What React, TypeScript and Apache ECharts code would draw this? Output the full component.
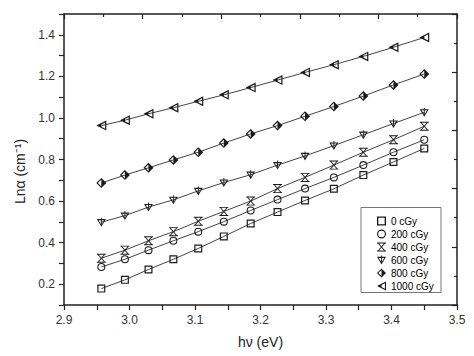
import React, { useEffect, useRef } from "react";
import * as echarts from "echarts";

const hv = [2.957, 2.993, 3.029, 3.067, 3.105, 3.144, 3.185, 3.226, 3.268, 3.312, 3.357, 3.403, 3.45];
const s0 = [0.179, 0.221, 0.271, 0.32, 0.372, 0.43, 0.492, 0.547, 0.603, 0.659, 0.725, 0.788, 0.853];
const s200 = [0.283, 0.32, 0.364, 0.409, 0.453, 0.501, 0.555, 0.607, 0.66, 0.714, 0.773, 0.835, 0.895];
const s400 = [0.325, 0.364, 0.409, 0.453, 0.503, 0.55, 0.6, 0.66, 0.714, 0.773, 0.835, 0.895, 0.96];
const s600 = [0.498, 0.53, 0.571, 0.606, 0.649, 0.689, 0.727, 0.773, 0.817, 0.867, 0.919, 0.973, 1.027];
const s800 = [0.687, 0.725, 0.76, 0.798, 0.835, 0.879, 0.923, 0.963, 1.008, 1.055, 1.105, 1.159, 1.211];
const s1000 = [0.963, 0.989, 1.02, 1.049, 1.08, 1.111, 1.146, 1.182, 1.219, 1.256, 1.296, 1.34, 1.387];
const seriesNames = ["0 cGy", "200 cGy", "400 cGy", "600 cGy", "800 cGy", "1000 cGy"];

const SYM_SQUARE = "path://M0,0 L20,0 L20,20 L0,20 Z M3,3 L3,17 L17,17 L17,3 Z";
const SYM_CIRCLE =
  "path://M0,10 A10,10 0 0,1 20,10 A10,10 0 0,1 0,10 Z M2.6,10 A7.4,7.4 0 0,0 17.4,10 A7.4,7.4 0 0,0 2.6,10 Z";
const SYM_XGLASS =
  "path://M0,0 L20,0 L20,2 L0,2 Z M0,18 L20,18 L20,20 L0,20 Z M0,0 L2.6,0 L20,20 L17.4,20 Z M17.4,0 L20,0 L2.6,20 L0,20 Z";
const SYM_TRIV =
  "path://M0,3 L20,3 L10,20 Z M4,5.6 L10,15.8 L16,5.6 Z M9,5.6 L11,5.6 L11,15 L9,15 Z M9,0 L11,0 L11,3 L9,3 Z";
const SYM_DIAM =
  "path://M10,0 L0,10 L10,20 L10,16.8 L3.2,10 L10,3.2 Z M10,0 L20,10 L10,20 Z";
const SYM_TRIL =
  "path://M0,10 L10,5 L10,15 Z M10,5 L20,0 L20,20 L10,15 L10,12.24 L17.6,16.1 L17.6,3.9 L10,7.76 Z";

const symbols = [SYM_SQUARE, SYM_CIRCLE, SYM_XGLASS, SYM_TRIV, SYM_DIAM, SYM_TRIL];
const sizes = [8, 8, 9, 9, 10, 10];
const values = [s0, s200, s400, s600, s800, s1000];

const FONT = "'Liberation Sans', Arial, sans-serif";
const AX = "#222";

export default function App() {
  const ref = useRef<HTMLDivElement>(null);
  useEffect(() => {
    if (!ref.current) return;
    const chart = echarts.init(ref.current, null, { renderer: "svg" });
    const series = values.map((vals, i) => ({
      name: seriesNames[i],
      type: "line",
      xAxisIndex: 0,
      yAxisIndex: 0,
      data: vals.map((v, j) => [hv[j], v]),
      symbol: symbols[i],
      symbolSize: sizes[i],
      showAllSymbol: true,
      itemStyle: { color: "#1a1a1a", borderWidth: 0 },
      lineStyle: { color: "#444", width: 1 },
      emphasis: { disabled: true },
    }));
    chart.setOption({
      animation: false,
      backgroundColor: "#fff",
      grid: { left: 64, right: 17, top: 14, bottom: 51, containLabel: false },
      xAxis: [
        {
          type: "value",
          min: 2.9,
          max: 3.5,
          interval: 0.1,
          position: "bottom",
          name: "hν (eV)",
          nameLocation: "middle",
          nameGap: 30,
          nameTextStyle: { fontFamily: FONT, fontSize: 14, color: "#222" },
          axisLine: { show: true, onZero: false, lineStyle: { color: AX, width: 1.5 } },
          axisTick: { show: true, inside: false, length: 5, lineStyle: { color: AX, width: 1.2 } },
          minorTick: { show: true, splitNumber: 2, length: 5, lineStyle: { color: AX, width: 1.2 } },
          axisLabel: {
            fontFamily: FONT,
            fontSize: 12,
            color: "#333",
            margin: 9,
            formatter: (v: number) => v.toFixed(1),
          },
          splitLine: { show: false },
        },
        {
          type: "value",
          min: 0,
          max: 1,
          interval: 0.2,
          position: "top",
          axisLine: { show: true, onZero: false, lineStyle: { color: AX, width: 1.5 } },
          axisTick: { show: true, inside: true, length: 5, lineStyle: { color: AX, width: 1.2 } },
          minorTick: { show: true, splitNumber: 2, length: 3, lineStyle: { color: AX, width: 1.2 } },
          axisLabel: { show: false },
          splitLine: { show: false },
        },
      ],
      yAxis: [
        {
          type: "value",
          min: 0.1,
          max: 1.5,
          interval: 0.1,
          position: "left",
          name: "Lnα (cm⁻¹)",
          nameLocation: "middle",
          nameGap: 34,
          nameTextStyle: { fontFamily: FONT, fontSize: 14, color: "#222", padding: [0, 24, 0, 0] },
          axisLine: { show: true, onZero: false, lineStyle: { color: AX, width: 1.5 } },
          axisTick: { show: true, inside: false, length: 5, lineStyle: { color: AX, width: 1.2 } },
          axisLabel: {
            fontFamily: FONT,
            fontSize: 12,
            color: "#333",
            margin: 9,
            formatter: (v: number) => (Math.round(v * 10) % 2 === 0 ? v.toFixed(1) : ""),
          },
          splitLine: { show: false },
        },
        {
          type: "value",
          min: 0,
          max: 1,
          interval: 0.2,
          position: "right",
          axisLine: { show: true, onZero: false, lineStyle: { color: AX, width: 1.5 } },
          axisTick: { show: true, inside: true, length: 5, lineStyle: { color: AX, width: 1.2 } },
          minorTick: { show: true, splitNumber: 2, length: 3, lineStyle: { color: AX, width: 1.2 } },
          axisLabel: { show: false },
          splitLine: { show: false },
        },
      ],
      legend: {
        orient: "vertical",
        align: "left",
        left: 377,
        top: 216,
        padding: 0,
        itemWidth: 9,
        itemHeight: 9,
        itemGap: 3,
        selectedMode: false,
        data: seriesNames.map((n, i) => ({ name: n, icon: symbols[i] })),
        textStyle: { fontFamily: FONT, fontSize: 10, color: "#000" },
      },
      graphic: [
        {
          type: "rect",
          shape: { x: 361, y: 207.5, width: 80, height: 85 },
          style: { fill: "none", stroke: "#777", lineWidth: 1 },
          silent: true,
        },
      ],
      series,
    });
    return () => chart.dispose();
  }, []);
  return (
    <div
      ref={ref}
      style={{ position: "absolute", left: 0, top: 0, width: 474, height: 356 }}
    />
  );
}
